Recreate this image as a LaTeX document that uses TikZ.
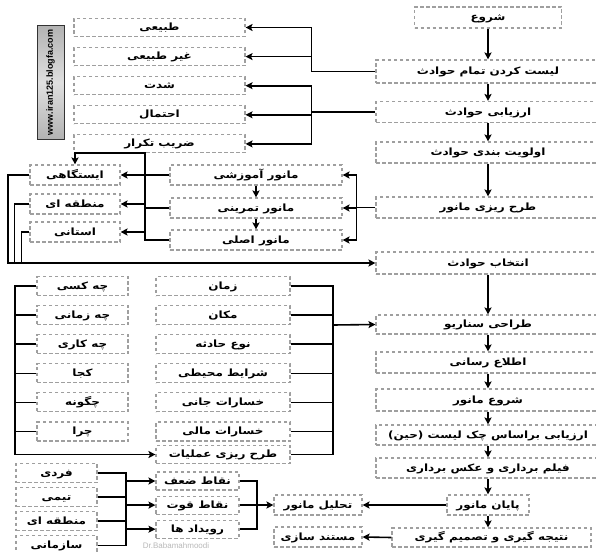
\documentclass[tikz,border=0pt]{standalone}
\usepackage{fontspec}
\newfontfamily\arabicfont[Script=Arabic, FakeStretch=1.2]{DejaVu Sans}
\newfontfamily\latinsans{Liberation Sans}
\TeXXeTstate=1
\usetikzlibrary{arrows.meta, positioning, calc}
\newcommand{\rl}[1]{\beginR #1\endR}
\tikzset{
	box/.style     ={rectangle, draw=gray!75, line width=1.1pt, dash pattern=on 3.5pt off 2.5pt, inner sep=0pt, align=center, text height=8pt, text depth=2pt, font=\fontsize{10}{12}\selectfont\arabicfont\bfseries},
	mainbox/.style ={box, minimum width=224pt, minimum height=21pt},
	typebox/.style ={box, minimum width=171pt, minimum height=18pt},
	lvlbox/.style  ={box, minimum width=90pt, minimum height=20pt},
	kindbox/.style ={box, minimum width=172pt, minimum height=20pt},
	qbox/.style    ={box, minimum width=91pt, minimum height=19pt},
	fbox/.style    ={box, minimum width=134pt, minimum height=19pt},
	pbox/.style    ={box, minimum width=81pt, minimum height=19pt},
	sbox/.style    ={box, minimum width=83pt, minimum height=18pt},
	abox/.style    ={box, minimum width=88pt, minimum height=20pt},
	blogbox/.style ={rectangle, draw=black!80, line width=1pt, rotate=90, minimum width=113pt, minimum height=27pt, inner sep=0pt,
	                 top color=gray!60, bottom color=gray!60, middle color=gray!25, font=\latinsans\bfseries\fontsize{9}{10}\selectfont},
	sig/.style     ={-{Stealth[length=7pt, width=7pt, inset=1.5pt]}, line width=1.6pt},
	wire/.style    ={line width=1.6pt},
}
\begin{document}
\begin{tikzpicture}[x=1pt, y=-1pt]
	\fill[white] (0,0) rectangle (596,551);
	\useasboundingbox (0,0) rectangle (596,551);
	% main column
	\node[mainbox, minimum width=147pt] (start) at (488,17.5) {\rl{شروع}};
	\node[mainbox, minimum height=23pt] (list) at (488,71.5) {\rl{لیست کردن تمام حوادث}};
	\node[mainbox] (eval) at (488,112) {\rl{ارزیابی حوادث}};
	\node[mainbox] (prio) at (488,152.5) {\rl{اولویت بندی حوادث}};
	\node[mainbox] (plan) at (488,207.5) {\rl{طرح ریزی مانور}};
	\node[mainbox, minimum height=22pt] (select) at (488,263) {\rl{انتخاب حوادث}};
	\node[mainbox, minimum height=19pt] (scen) at (488,324.5) {\rl{طراحی سناریو}};
	\node[mainbox] (inform) at (488,362.5) {\rl{اطلاع رسانی}};
	\node[mainbox, minimum height=22pt] (begin) at (488,400) {\rl{شروع مانور}};
	\node[mainbox, minimum height=20pt] (check) at (488,435) {\rl{ارزیابی براساس چک لیست (حین)}};
	\node[mainbox, minimum height=20pt] (film) at (488,468) {\rl{فیلم برداری و عکس برداری}};
	\node[box, minimum width=82pt, minimum height=20pt] (endm) at (488,505) {\rl{پایان مانور}};
	\node[box, minimum width=199pt, minimum height=19pt] (concl) at (491.5,537.5) {\rl{نتیجه گیری و تصمیم گیری}};
	% incident types
	\node[blogbox] (blog) at (50.5,82.5) {www.iran125.blogfa.com};
	\node[typebox] (nat) at (159.5,27.5) {\rl{طبیعی}};
	\node[typebox, below=10pt of nat] (unnat) {\rl{غیر طبیعی}};
	\node[typebox, below=10pt of unnat] (sev) {\rl{شدت}};
	\node[typebox, below=10pt of sev] (prob) {\rl{احتمال}};
	\node[typebox, below=10pt of prob] (freq) {\rl{ضریب تکرار}};
	% drill levels
	\node[lvlbox] (st) at (75,175) {\rl{ایستگاهی}};
	\node[lvlbox] (reg) at (75,204) {\rl{منطقه ای}};
	\node[lvlbox] (prov) at (75,232) {\rl{استانی}};
	\node[kindbox] (ma) at (256,175) {\rl{مانور آموزشی}};
	\node[kindbox] (mt) at (256,208) {\rl{مانور تمرینی}};
	\node[kindbox] (mm) at (256,240) {\rl{مانور اصلی}};
	% scenario questions
	\node[qbox] (who) at (82.5,286) {\rl{چه کسی}};
	\node[qbox, below=9pt of who] (when) {\rl{چه زمانی}};
	\node[qbox, below=9pt of when] (what) {\rl{چه کاری}};
	\node[qbox, below=9pt of what] (where) {\rl{کجا}};
	\node[qbox, below=9pt of where] (how) {\rl{چگونه}};
	\node[qbox, below=9pt of how] (why) {\rl{چرا}};
	\node[fbox] (time) at (223,286) {\rl{زمان}};
	\node[fbox, below=9pt of time] (place) {\rl{مکان}};
	\node[fbox, below=9pt of place] (type) {\rl{نوع حادثه}};
	\node[fbox, below=9pt of type] (env) {\rl{شرایط محیطی}};
	\node[fbox, below=9pt of env] (life) {\rl{خسارات جانی}};
	\node[fbox, below=9pt of life] (money) {\rl{خسارات مالی}};
	\node[fbox, minimum height=18pt] (ops) at (223,454.5) {\rl{طرح ریزی عملیات}};
	% analysis
	\node[pbox] (ind) at (56.5,473) {\rl{فردی}};
	\node[pbox, below=4pt of ind] (team) {\rl{تیمی}};
	\node[pbox, below=4pt of team] (reg2) {\rl{منطقه ای}};
	\node[pbox, below=4pt of reg2] (org) {\rl{سازمانی}};
	\node[sbox] (weak) at (197.5,481) {\rl{نقاط ضعف}};
	\node[sbox, below=5pt of weak] (strong) {\rl{نقاط قوت}};
	\node[sbox, below=5pt of strong] (events) {\rl{رویداد ها}};
	\node[abox] (anal) at (318,505) {\rl{تحلیل مانور}};
	\node[abox] (doc) at (318,537) {\rl{مستند سازی}};
	\node[text=gray!55, font=\latinsans\fontsize{8}{9}\selectfont] (sign) at (176,545.5) {Dr.Babamahmoodi};
	% junction points
	\coordinate (jt) at (145,153);
	\coordinate (fb) at (8,263);
	\coordinate (lb) at (15,454.5);
	\coordinate (rb) at (333,325);
	\coordinate (lj) at (126,473);
	\coordinate (rj) at (257,481);
	% main flow
	\draw[sig] (start) -- (list);
	\draw[sig] (list) -- (eval);
	\draw[sig] (eval) -- (prio);
	\draw[sig] (prio) -- (plan);
	\draw[sig] (select) -- (scen);
	\draw[sig] (scen) -- (inform);
	\draw[sig] (inform) -- (begin);
	\draw[sig] (begin) -- (check);
	\draw[sig] (check) -- (film);
	\draw[sig] (film) -- (endm);
	\draw[sig] (endm) -- (endm |- concl.north);
	% branches to types
	\draw[wire] (list.west) -- ++(-64,0) coordinate (b1);
	\draw[sig] (b1) |- (nat.east); \draw[sig] (b1) |- (unnat.east);
	\draw[wire] (eval.west) -- ++(-64,0) coordinate (b2);
	\draw[sig] (b2) |- (sev.east); \draw[sig] (b2) |- (prob.east); \draw[sig] (b2) |- (freq.east);
	\draw[wire] (plan.west) -- ++(-19,0) coordinate (b3);
	\draw[sig] (b3) |- (ma.east); \draw[sig] (b3) |- (mt.east); \draw[sig] (b3) |- (mm.east);
	\draw[sig] (ma) -- (mt); \draw[sig] (mt) -- (mm);
	% drill kinds to levels
	\draw[sig] (ma.west) -- (st.east);
	\draw[sig] (mm.west) -| (jt) -| (st.north);
	\draw[wire] (mt.west) -- (mt.west -| jt);
	\draw[sig] (jt |- reg.east) -- (reg.east);
	\draw[sig] (jt |- prov.east) -- (prov.east);
	\draw[sig] (st.west) -| (fb) -- (select.west);
	\draw[wire] (reg.west) -- ++(-15,0) coordinate (r2) -- (r2 |- fb);
	\draw[wire] (prov.west) -- ++(-8,0) coordinate (r3) -- (r3 |- fb);
	% scenario
	\draw[sig] (who.west) -| (lb) -- (ops.west);
	\foreach \n in {when,what,where,how,why}
		\draw[wire] (\n.west) -- (\n.west -| lb);
	\draw[wire] (time.east) -| (rb |- ops.east) -- (ops.east);
	\foreach \n in {place,type,env,life,money}
		\draw[wire] (\n.east) -- (\n.east -| rb);
	\draw[sig] (rb) -- (scen.west);
	% analysis
	\draw[wire] (ind.east) -| (lj |- org.east) -- (org.east);
	\draw[wire] (team.east) -- (team.east -| lj);
	\draw[wire] (reg2.east) -- (reg2.east -| lj);
	\draw[sig] (lj |- weak.west) -- (weak.west);
	\draw[sig] (lj |- strong.west) -- (strong.west);
	\draw[sig] (lj |- events.west) -- (events.west);
	\draw[wire] (weak.east) -| (rj |- events.east) -- (events.east);
	\draw[wire] (strong.east) -- (strong.east -| rj);
	\draw[sig] (rj |- anal.west) -- (anal.west);
	\draw[sig] (endm.west) -- (anal.east);
	\draw[sig] (concl.west) -- (doc.east);
\end{tikzpicture}
\end{document}
